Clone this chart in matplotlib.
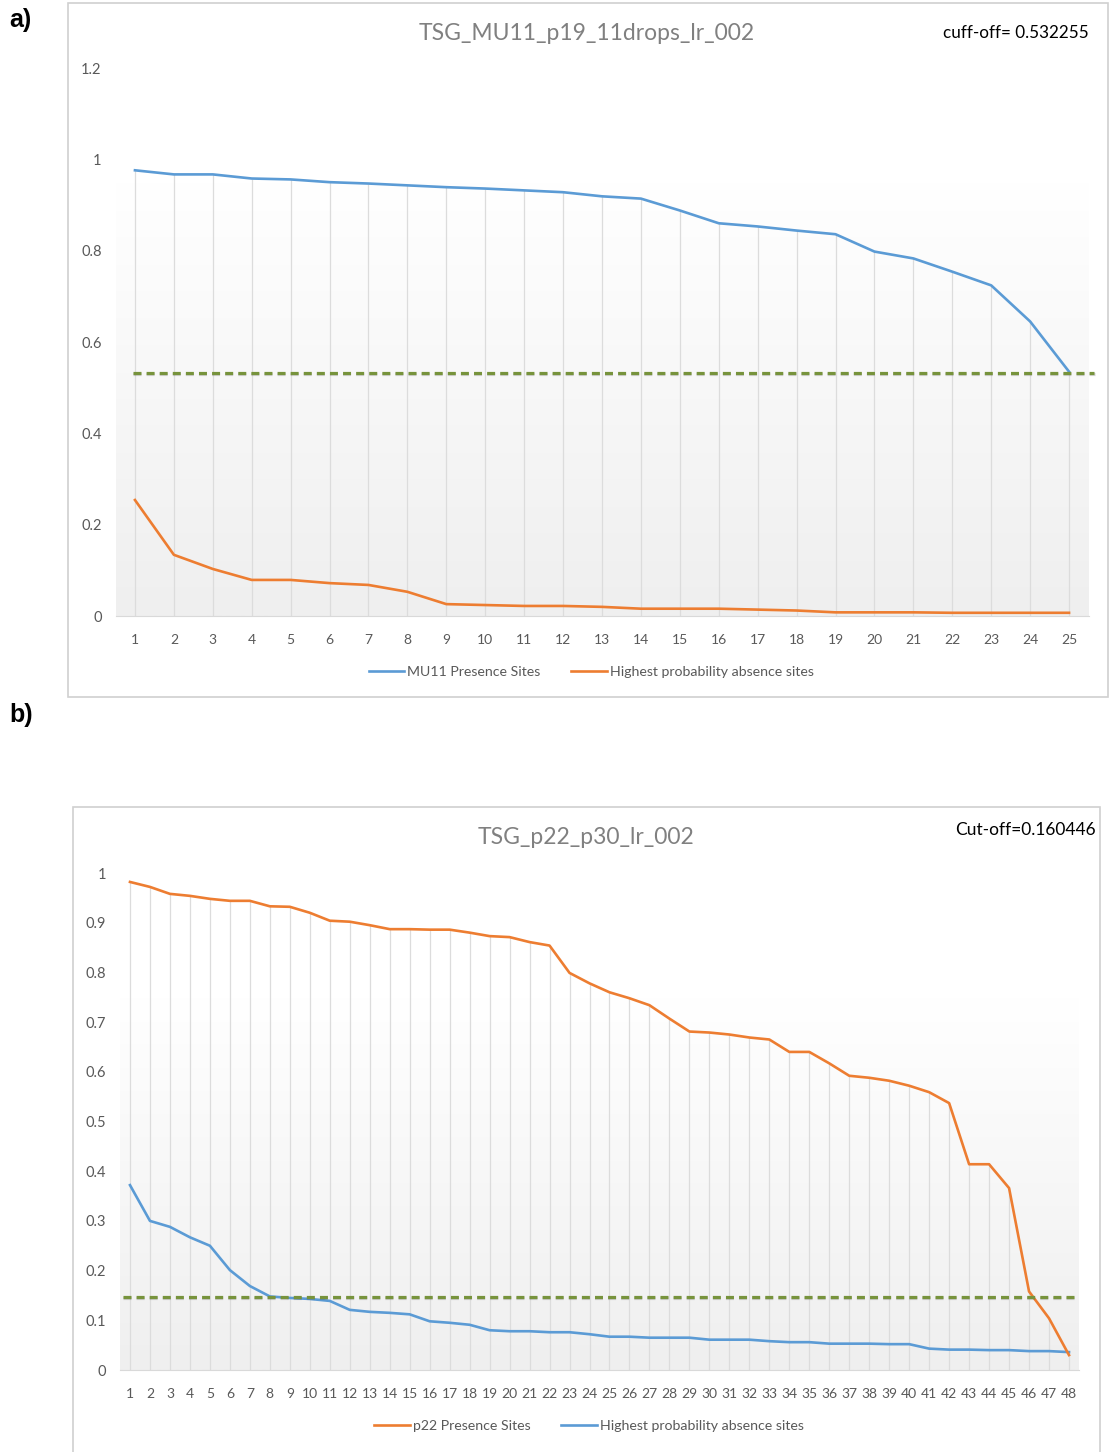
import matplotlib.pyplot as plt
import matplotlib.patheffects as pe
from matplotlib.colors import LinearSegmentedColormap
from matplotlib.patches import Rectangle
import numpy as np

plt.rcParams['font.family'] = ['Lato', 'DejaVu Sans']

# ---- panel a data ----
sites_a = list(range(1, 26))
mu11_presence = [0.976, 0.967, 0.967, 0.958, 0.956, 0.950, 0.947, 0.943, 0.939, 0.936,
                 0.932, 0.928, 0.919, 0.914, 0.888, 0.860, 0.853, 0.844, 0.836, 0.798,
                 0.783, 0.754, 0.724, 0.645, 0.535]
absence_a = [0.254, 0.134, 0.103, 0.079, 0.079, 0.072, 0.068, 0.053, 0.026, 0.024,
             0.022, 0.022, 0.020, 0.016, 0.016, 0.016, 0.014, 0.012, 0.008, 0.008,
             0.008, 0.007, 0.007, 0.007, 0.007]
cutoff_a = 0.532255

# ---- panel b data ----
sites_b = list(range(1, 49))
p22_presence = [0.982, 0.972, 0.958, 0.954, 0.948, 0.944, 0.944, 0.933, 0.932, 0.920,
                0.904, 0.902, 0.895, 0.887, 0.887, 0.886, 0.886, 0.880, 0.873, 0.871,
                0.861, 0.854, 0.799, 0.778, 0.760, 0.748, 0.734, 0.707, 0.681, 0.679,
                0.675, 0.669, 0.665, 0.640, 0.640, 0.617, 0.592, 0.588, 0.582, 0.572,
                0.559, 0.537, 0.414, 0.414, 0.366, 0.158, 0.104, 0.030]
absence_b = [0.372, 0.300, 0.288, 0.267, 0.250, 0.201, 0.169, 0.148, 0.145, 0.143,
             0.139, 0.121, 0.117, 0.115, 0.112, 0.098, 0.095, 0.091, 0.080, 0.078,
             0.078, 0.076, 0.076, 0.072, 0.067, 0.067, 0.065, 0.065, 0.065, 0.061,
             0.061, 0.061, 0.058, 0.056, 0.056, 0.053, 0.053, 0.053, 0.052, 0.052,
             0.043, 0.041, 0.041, 0.040, 0.040, 0.038, 0.038, 0.036]
cutoff_b_label = 0.160446
cutoff_b_line = 0.147

BLUE = '#5b9bd5'
ORANGE = '#ed7d31'
GREEN = '#77933c'
GRAY_TXT = '#595959'

W, H = 1113, 1452
fig = plt.figure(figsize=(W / 100, H / 100), dpi=100)


def px_axes(left, top, right, bottom):
    return fig.add_axes([left / W, 1 - bottom / H, (right - left) / W, (bottom - top) / H])


def frame(left, top, right, bottom):
    fig.patches.append(Rectangle((left / W, 1 - bottom / H), (right - left) / W, (bottom - top) / H,
                                 transform=fig.transFigure, fill=False, ec='#d0d0d0', lw=1.2))


grad_cmap = LinearSegmentedColormap.from_list('g', ['#ffffff', '#efefef'])


def panel(ax, x, upper, lower, upper_col, lower_col, cut, ymax, yticks, yfmt, grad_top,
          cut_x0, cut_x1, ypad, xpad):
    n = len(x)
    ax.set_xlim(0.5, n + 0.5)
    ax.set_ylim(0, ymax)
    # gradient background
    grad = np.linspace(0, 1, 200).reshape(-1, 1)
    ax.imshow(grad, extent=[0.5, n + 0.5, 0, grad_top], aspect='auto', cmap=grad_cmap,
              origin='upper', zorder=0)
    # drop lines
    tops = np.maximum(upper, lower)
    ax.vlines(x, 0, tops, color='#dcdcdc', lw=0.9, zorder=1)
    ax.plot(x, lower, color=lower_col, lw=1.9, zorder=3, clip_on=False)
    ax.plot(x, upper, color=upper_col, lw=1.9, zorder=3, clip_on=False)
    ax.plot([cut_x0, cut_x1], [cut, cut], color=GREEN, lw=2.3, dashes=(2.5, 1.6), zorder=4,
            clip_on=False,
            path_effects=[pe.SimpleLineShadow(offset=(0.3, -1.1), alpha=0.22, shadow_color='#444444'),
                          pe.Normal()])
    for s in ['top', 'right', 'left']:
        ax.spines[s].set_visible(False)
    ax.spines['bottom'].set_color('#d9d9d9')
    ax.set_xticks(x)
    ax.set_xticklabels([str(v) for v in x])
    ax.set_yticks(yticks)
    ax.set_yticklabels([yfmt(v) for v in yticks])
    ax.tick_params(length=0, colors=GRAY_TXT, labelsize=10)
    ax.tick_params(axis='y', pad=ypad, labelsize=10.5)
    ax.tick_params(axis='x', pad=xpad)
    ax.set_facecolor('white')


def fmt(v):
    s = f'{v:.1f}'
    if s.endswith('.0'):
        s = s[:-2]
    return s


# ---- panel a ----
frame(68, 3, 1108, 697)
ax1 = px_axes(115.5, 68, 1088.5, 616)
panel(ax1, sites_a, mu11_presence, absence_a, BLUE, ORANGE, cutoff_a, 1.2,
      [0, 0.2, 0.4, 0.6, 0.8, 1.0, 1.2], fmt, 0.95, 0.95, 25.65, 10, 13)
fig.text(587 / W, 1 - 33 / H, 'TSG_MU11_p19_11drops_lr_002', ha='center', va='center',
         fontsize=16.5, color='#808080')
fig.text(1089 / W, 1 - 33 / H, 'cuff-off= 0.532255', ha='right', va='center',
         fontsize=12.3, color='black')
fig.text(9 / W, 1 - 20 / H, 'a)', ha='left', va='center', fontsize=18, fontweight='bold',
         family='Liberation Sans')
h1, = ax1.plot([], [], color=BLUE, lw=1.9)
h2, = ax1.plot([], [], color=ORANGE, lw=1.9)
fig.legend([h1, h2], ['MU11 Presence Sites', 'Highest probability absence sites'],
           loc='center', bbox_to_anchor=(591 / W, 1 - 672 / H), ncol=2, frameon=False,
           fontsize=10.2, labelcolor=GRAY_TXT, handlelength=2.5, handletextpad=0.2,
           columnspacing=2.2)

# ---- panel b ----
frame(73, 807, 1100, 1470)
ax2 = px_axes(120, 873, 1079, 1370)
panel(ax2, sites_b, p22_presence, absence_b, ORANGE, BLUE, cutoff_b_line, 1.0,
      [0, 0.1, 0.2, 0.3, 0.4, 0.5, 0.6, 0.7, 0.8, 0.9, 1.0], fmt, 0.75, 0.65, 48.3, 10, 13)
fig.text(586 / W, 1 - 837 / H, 'TSG_p22_p30_lr_002', ha='center', va='center',
         fontsize=16.5, color='#808080')
fig.text(1096 / W, 1 - 830 / H, 'Cut-off=0.160446', ha='right', va='center',
         fontsize=12.5, color='black')
fig.text(9 / W, 1 - 715 / H, 'b)', ha='left', va='center', fontsize=18, fontweight='bold',
         family='Liberation Sans')
h3, = ax2.plot([], [], color=ORANGE, lw=1.9)
h4, = ax2.plot([], [], color=BLUE, lw=1.9)
fig.legend([h3, h4], ['p22 Presence Sites', 'Highest probability absence sites'],
           loc='center', bbox_to_anchor=(589 / W, 1 - 1426 / H), ncol=2, frameon=False,
           fontsize=10.2, labelcolor=GRAY_TXT, handlelength=2.5, handletextpad=0.2,
           columnspacing=2.2)

fig.savefig('out.png', dpi=100)
